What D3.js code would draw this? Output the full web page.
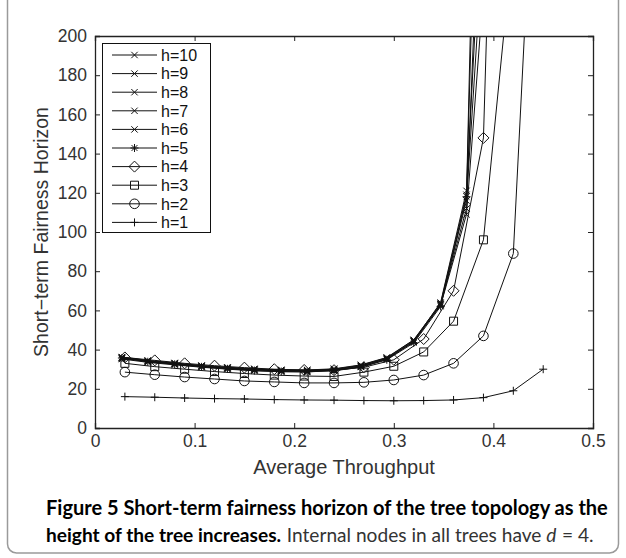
<!DOCTYPE html>
<html><head><meta charset="utf-8">
<script src="https://cdn.jsdelivr.net/npm/d3@7"></script>
<style>body{margin:0;background:#fff}</style>
</head><body><svg id="c" width="626" height="558"></svg>
<script>
// ---- data ----
const xTicks = [0, 0.1, 0.2, 0.3, 0.4, 0.5];
const yTicks = [0, 20, 40, 60, 80, 100, 120, 140, 160, 180, 200];
const xA = [0.03,0.06,0.09,0.12,0.15,0.18,0.21,0.24,0.27,0.30,0.33,0.36,0.39,0.42,0.45];
const xB = [0.027,0.053,0.080,0.107,0.133,0.160,0.187,0.213,0.240,0.267,0.293,0.320,0.347,0.373,0.400];
const h1  = [16,15.7,15.3,15,14.8,14.5,14.3,14.2,14,13.9,14,14.3,15.5,19,30];
const h2  = [28.5,27.2,26,25,24,23.5,23,23,23.3,24.5,27,33,47,89,390];
const h3  = [33,31.3,30,28.8,27.8,27,26.5,26.3,28.5,31.5,38.8,54.5,96,250];
const h4  = [36,34.5,33,31.8,30.8,30,29.6,29.5,31,34.8,45.4,70,148,660];
const h5  = [35.7,33.8,32.5,31.2,30.2,29.3,28.8,28.7,29.2,31,34.8,43.4,62,118,600];
const h6  = [35.2,33.5,32.2,31,30,29.2,28.7,28.6,29.3,31.2,35,44,63,112,450];
const h7  = [35.5,33.9,32.6,31.4,30.4,29.6,29.1,29,29.6,31.5,35.3,44.5,64,121,380];
const h8  = [35.8,34.1,32.8,31.5,30.6,29.8,29.3,29.2,29.8,31.7,35.5,44,63,116,330];
const h9  = [36,34.3,33,31.7,30.8,30,29.5,29.4,30,32,35.8,44.8,62.5,109,290];
const h10 = [36.2,34.5,33.2,31.9,31,30.2,29.7,29.6,30.2,32.2,36,45,63.5,119,700];
const labels = ["h=10","h=9","h=8","h=7","h=6","h=5","h=4","h=3","h=2","h=1"];
const markers = ["x","x","x","x","x","star","diamond","square","circle","plus"];
const seriesX = [xB,xB,xB,xB,xB,xB,xA,xA,xA,xA];
const seriesY = [h10,h9,h8,h7,h6,h5,h4,h3,h2,h1];

// ---- layout ----
const svg = d3.select("#c");
const L = 95, R = 593, T = 36, B = 428;
const x = d3.scaleLinear().domain([0, 0.5]).range([L, R]);
const y = d3.scaleLinear().domain([0, 200]).range([B, T]);
const axisCol = "#222", textCol = "#333";
const tickFont = "Liberation Sans, Arial, sans-serif";

// figure frame
svg.append("rect").attr("x", 7.5).attr("y", -20).attr("width", 611).attr("height", 573)
  .attr("rx", 9).attr("fill", "none").attr("stroke", "#9a9a9a").attr("stroke-width", 1.5);

svg.append("rect").attr("x", L).attr("y", T).attr("width", R - L).attr("height", B - T).attr("fill", "#fff");

svg.append("defs").append("clipPath").attr("id", "clip")
  .append("rect").attr("x", L).attr("y", T).attr("width", R - L).attr("height", B - T);

function markerPath(type, cx, cy) {
  const p = d3.path();
  if (type === "x") { const s = 3.2; p.moveTo(cx-s,cy-s); p.lineTo(cx+s,cy+s); p.moveTo(cx-s,cy+s); p.lineTo(cx+s,cy-s); }
  else if (type === "plus") { const s = 4; p.moveTo(cx-s,cy); p.lineTo(cx+s,cy); p.moveTo(cx,cy-s); p.lineTo(cx,cy+s); }
  else if (type === "star") { const s = 4, d = 2.9; p.moveTo(cx-s,cy); p.lineTo(cx+s,cy); p.moveTo(cx,cy-s); p.lineTo(cx,cy+s); p.moveTo(cx-d,cy-d); p.lineTo(cx+d,cy+d); p.moveTo(cx-d,cy+d); p.lineTo(cx+d,cy-d); }
  else if (type === "diamond") { const s = 5.5; p.moveTo(cx,cy-s); p.lineTo(cx+s,cy); p.lineTo(cx,cy+s); p.lineTo(cx-s,cy); p.closePath(); }
  else if (type === "square") { const s = 4; p.rect(cx-s, cy-s, 2*s, 2*s); }
  else if (type === "circle") { const r = 4.8; p.moveTo(cx+r, cy); p.arc(cx, cy, r, 0, 2*Math.PI); }
  return p.toString();
}

const plot = svg.append("g").attr("clip-path", "url(#clip)");
const line = d3.line().x(d => x(d[0])).y(d => y(d[1]));
for (let i = seriesY.length - 1; i >= 0; i--) {
  const pts = seriesY[i].map((v, j) => [seriesX[i][j], v]);
  plot.append("path").attr("d", line(pts)).attr("fill", "none").attr("stroke", "#111").attr("stroke-width", 1);
  plot.append("g").selectAll("path").data(pts).join("path")
    .attr("d", d => markerPath(markers[i], x(d[0]), y(d[1])))
    .attr("fill", "none").attr("stroke", "#111").attr("stroke-width", 1);
}

// axes (MATLAB style box with inward ticks)
const tl = 5;
const gx = svg.append("g").attr("transform", `translate(0,${B})`)
  .call(d3.axisBottom(x).tickValues(xTicks).tickSize(-tl).tickPadding(7).tickFormat(d => d === 0 ? "0" : d3.format(".1f")(d)));
const gxt = svg.append("g").attr("transform", `translate(0,${T})`)
  .call(d3.axisTop(x).tickValues(xTicks).tickSize(-tl).tickFormat(""));
const gy = svg.append("g").attr("transform", `translate(${L},0)`)
  .call(d3.axisLeft(y).tickValues(yTicks).tickSize(-tl).tickPadding(8).tickFormat(d3.format("d")));
const gyr = svg.append("g").attr("transform", `translate(${R},0)`)
  .call(d3.axisRight(y).tickValues(yTicks).tickSize(-tl).tickFormat(""));
[gx, gxt, gy, gyr].forEach(g => {
  g.select(".domain").attr("stroke", axisCol).attr("stroke-width", 1.3);
  g.selectAll(".tick line").attr("stroke", axisCol);
  g.selectAll("text").attr("fill", textCol).attr("font-family", tickFont).attr("font-size", 17.5);
});
gx.selectAll(".tick text").attr("dy", "0.71em");

// axis labels
svg.append("text").attr("x", (L + R) / 2).attr("y", 474).attr("text-anchor", "middle")
  .attr("font-family", tickFont).attr("font-size", 20).attr("fill", textCol).text("Average Throughput");
svg.append("text").attr("transform", `translate(48,${(T + B) / 2}) rotate(-90)`).attr("text-anchor", "middle")
  .attr("font-family", tickFont).attr("font-size", 19.5).attr("fill", textCol).text("Short\u2212term Fairness Horizon");

// legend
const lg = svg.append("g");
lg.append("rect").attr("x", 102.5).attr("y", 43.5).attr("width", 108).attr("height", 189)
  .attr("fill", "#fff").attr("stroke", "#111").attr("stroke-width", 1);
labels.forEach((lab, i) => {
  const ly = 55 + i * 18.6;
  lg.append("line").attr("x1", 112).attr("x2", 157).attr("y1", ly).attr("y2", ly).attr("stroke", "#111");
  lg.append("path").attr("d", markerPath(markers[i], 134.5, ly)).attr("fill", "none").attr("stroke", "#111");
  lg.append("text").attr("x", 161).attr("y", ly).attr("dy", "0.36em").attr("font-family", tickFont)
    .attr("font-size", 16).attr("fill", "#111").text(lab);
});

// caption (font size fitted so each line spans its measured width, no glyph squeezing)
const capFont = "Lato, 'Open Sans', sans-serif";
const cap1 = svg.append("text").attr("x", 46).attr("y", 515).attr("font-family", capFont).attr("font-size", 20)
  .attr("font-weight", "bold").attr("fill", "#000")
  .text("Figure 5 Short-term fairness horizon of the tree topology as the");
const w1 = cap1.node().getComputedTextLength();
cap1.attr("font-size", 20 * 562 / w1);

const capPieces = [
  {t: "height of the tree increases.", w: "bold", s: "normal", c: "#000"},
  {t: "Internal nodes in all trees have", w: "normal", s: "normal", c: "#333"},
  {t: "d", w: "normal", s: "italic", c: "#333"},
  {t: "= 4.", w: "normal", s: "normal", c: "#333"}
];
const capX0 = 46, capX1 = 594;
const gaps = [6, 5, 6];
const nodes = capPieces.map(p => svg.append("text").attr("y", 542).attr("font-family", capFont)
  .attr("font-size", 20).attr("font-weight", p.w).attr("font-style", p.s).attr("fill", p.c).text(p.t));
let widths = nodes.map(n => n.node().getComputedTextLength());
const k = (capX1 - capX0) / (d3.sum(widths) + d3.sum(gaps));
nodes.forEach(n => n.attr("font-size", 20 * k));
widths = nodes.map(n => n.node().getComputedTextLength());
let cx = capX0;
nodes.forEach((n, i) => {
  n.attr("x", cx);
  cx += widths[i] + (i < gaps.length ? gaps[i] * k : 0);
});
</script></body></html>
